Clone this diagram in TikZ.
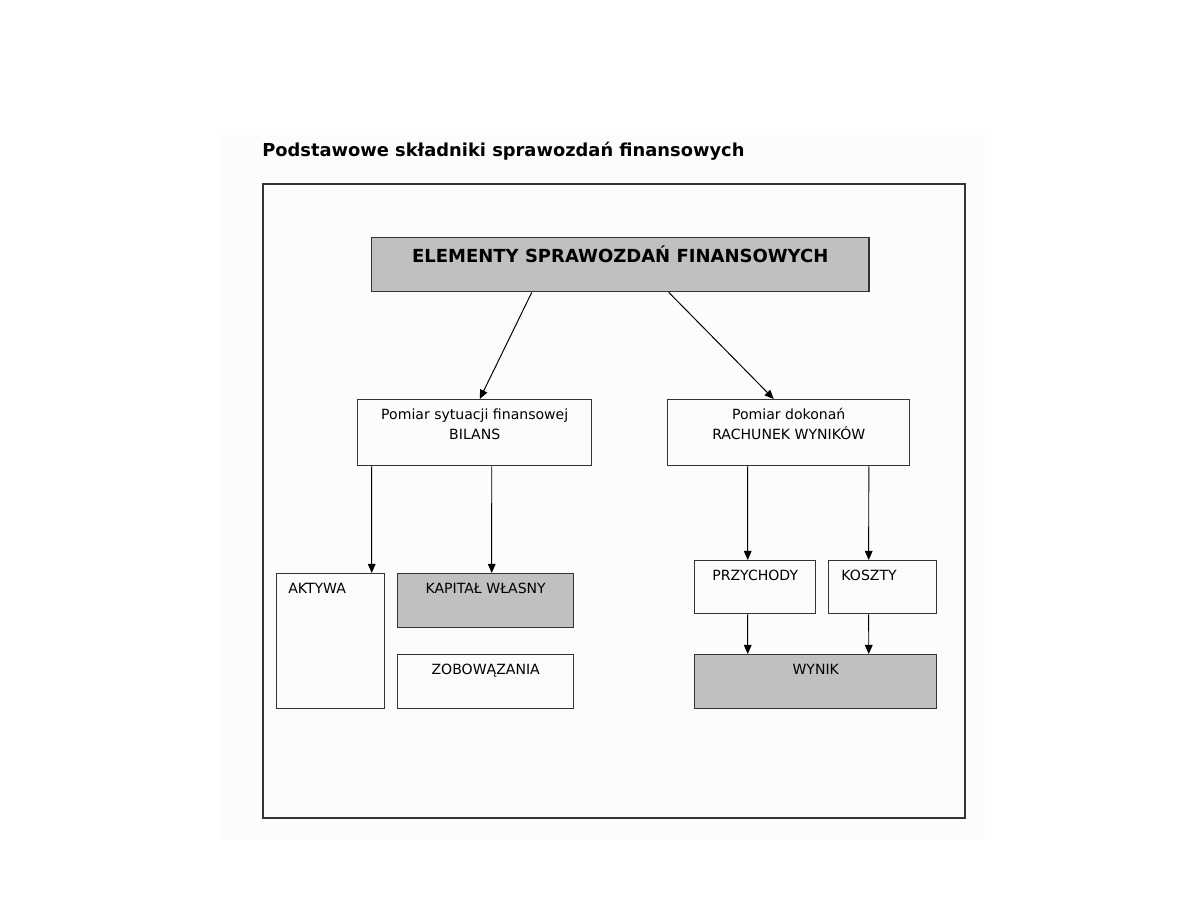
\documentclass[tikz,border=0pt]{standalone}
\usepackage{fontspec}
\setmainfont{DejaVu Sans}
\setsansfont{DejaVu Sans}
\usetikzlibrary{arrows.meta}
\definecolor{boxgray}{HTML}{C0C0C0}
\definecolor{dkline}{HTML}{333333}
\definecolor{paper}{HTML}{FCFCFC}

\tikzset{
  box/.style={draw=dkline,line width=1pt,rectangle,inner sep=0pt,anchor=north west},
  shaded/.style={box,fill=boxgray},
  txt/.style={font=\fontsize{10}{14}\selectfont,align=center,inner sep=0pt,anchor=base},
  link/.style={->,line width=0.7pt},
}

\begin{document}
\begin{tikzpicture}[>={Triangle[length=6.5pt,width=5.5pt]},font=\sffamily,x=0.025cm,y=-0.025cm]
  \useasboundingbox (0,0) rectangle (1188,918);
  \fill[paper] (220,135) rectangle (985,840);

  % ===== TITLE AND FRAME =====
  \node[anchor=base west,inner sep=0pt,font=\bfseries\fontsize{12.7}{15}\selectfont]
        (title) at (262,157) {Podstawowe składniki sprawozdań finansowych};
  \node[box,line width=1.4pt,minimum width=17.55cm,minimum height=15.85cm] (frame) at (262,183) {};

  % ===== TOP =====
  \node[shaded,minimum width=12.425cm,minimum height=1.35cm] (top) at (371,237) {};
  \node[txt,font=\bfseries\fontsize{12.8}{15}\selectfont] (top-t) at ([yshift=-0.625cm]top.north)
        {ELEMENTY SPRAWOZDAŃ FINANSOWYCH};

  % ===== BILANS / RACHUNEK =====
  \node[box,minimum width=5.85cm,minimum height=1.65cm] (bilans) at (357,399) {};
  \node[txt] (bilans-t) at ([yshift=-1.0cm]bilans.north) {Pomiar sytuacji finansowej\\BILANS};
  \node[box,minimum width=6.05cm,minimum height=1.65cm] (rachunek) at (667,399) {};
  \node[txt] (rachunek-t) at ([yshift=-1.0cm]rachunek.north) {Pomiar dokonań\\RACHUNEK WYNIKÓW};

  \draw[link] ([xshift=-2.2125cm]top.south) -- ([xshift=0.125cm]bilans.north);
  \draw[link] ([xshift=1.2125cm]top.south) -- ([xshift=-0.375cm]rachunek.north);

  % ===== LEFT BRANCH =====
  \node[box,minimum width=2.7cm,minimum height=3.375cm] (aktywa) at (276,573) {};
  \node[txt,anchor=base west] (aktywa-t) at ([xshift=0.3cm,yshift=-0.5cm]aktywa.north west) {AKTYWA};
  \node[shaded,minimum width=4.4cm,minimum height=1.35cm] (kapital) at (397,573) {};
  \node[txt] (kapital-t) at ([yshift=-0.5cm]kapital.north) {KAPITAŁ WŁASNY};
  \node[box,minimum width=4.4cm,minimum height=1.35cm] (zobow) at (397,654) {};
  \node[txt] (zobow-t) at ([yshift=-0.5cm]zobow.north) {ZOBOWĄZANIA};

  \draw[link] ([xshift=-2.575cm]bilans.south) -- ([xshift=1.025cm]aktywa.north);
  \draw[link] ([xshift=0.425cm]bilans.south) -- ([xshift=0.15cm]kapital.north);

  % ===== RIGHT BRANCH =====
  \node[box,minimum width=3.025cm,minimum height=1.325cm] (przych) at (694,560) {};
  \node[txt] (przych-t) at ([yshift=-0.5cm]przych.north) {PRZYCHODY};
  \node[box,minimum width=2.7cm,minimum height=1.325cm] (koszty) at (828,560) {};
  \node[txt,anchor=base west] (koszty-t) at ([xshift=0.33cm,yshift=-0.5cm]koszty.north west) {KOSZTY};
  \node[shaded,minimum width=6.05cm,minimum height=1.35cm] (wynik) at (694,654) {};
  \node[txt] (wynik-t) at ([yshift=-0.52cm]wynik.north) {WYNIK};

  \draw[link] ([xshift=-1.025cm]rachunek.south) -- ([xshift=-0.1875cm]przych.north);
  \draw[link] ([xshift=2.0cm]rachunek.south) -- ([xshift=-0.35cm]koszty.north);
  \draw[link] ([xshift=-0.1875cm]przych.south) -- ([xshift=-1.7cm]wynik.north);
  \draw[link] ([xshift=-0.35cm]koszty.south) -- ([xshift=1.325cm]wynik.north);

\end{tikzpicture}
\end{document}
